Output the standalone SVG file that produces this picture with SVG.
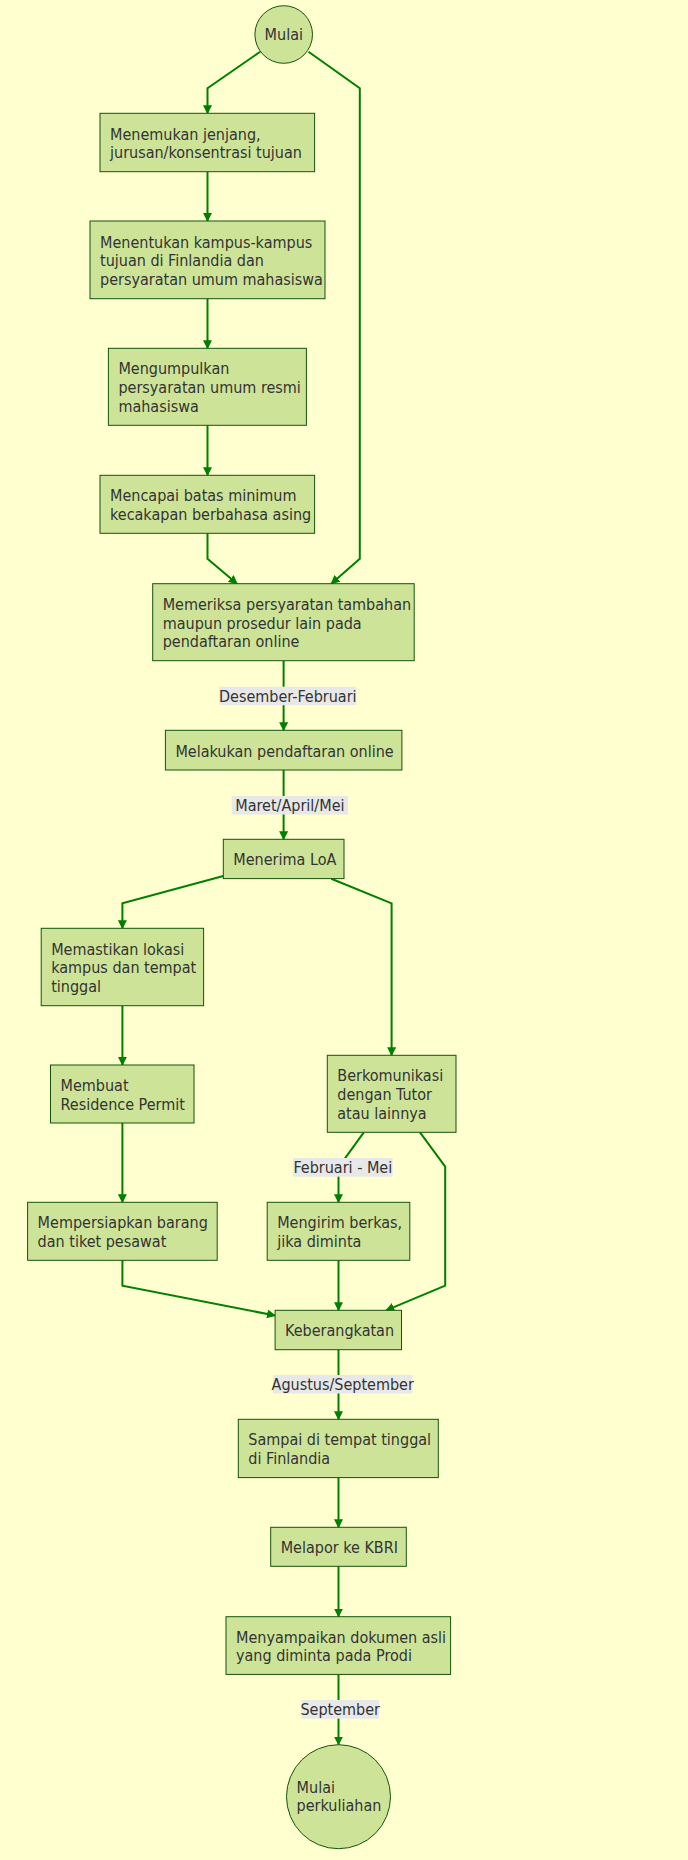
<svg xmlns="http://www.w3.org/2000/svg" width="688" height="1860" viewBox="0 0 688 1860">
  <style>
    .bg { fill: #ffffd0; }
    .node rect, .node circle { fill: #cde498; stroke: #13540c; stroke-width: 1; }
    .node text, .elabel text { font-family: "DejaVu Sans Condensed", "DejaVu Sans", sans-serif; font-stretch: condensed; font-size: 16px; fill: #333333; }
    .edge { fill: none; stroke: #008000; stroke-width: 2; }
    .elabel rect { fill: #e8e8e8; }
  </style>
  <defs>
    <marker id="arrow" viewBox="0 0 10 10" refX="9" refY="5" markerWidth="9" markerHeight="9" markerUnits="userSpaceOnUse" orient="auto">
      <path d="M0,0 L10,5 L0,10 z" fill="#008000"/>
    </marker>
  </defs>
  <rect class="bg" x="0" y="0" width="688" height="1860"/>

  <!-- connectors -->
  <g id="edges">
    <path class="edge" marker-end="url(#arrow)" d="M260.2,51.7 L207.5,88.3 L207.5,113.3"/>
    <path class="edge" marker-end="url(#arrow)" d="M308.5,51.7 L359.8,88.3 L359.8,558.7 L331.3,583.7"/>
    <path class="edge" marker-end="url(#arrow)" d="M207.5,171.7 L207.5,221"/>
    <path class="edge" marker-end="url(#arrow)" d="M207.5,298.7 L207.5,348.3"/>
    <path class="edge" marker-end="url(#arrow)" d="M207.5,425.3 L207.5,475.3"/>
    <path class="edge" marker-end="url(#arrow)" d="M207.5,533.3 L207.5,558.7 L237,583.7"/>
    <path class="edge" marker-end="url(#arrow)" d="M283.6,660.7 L283.6,730.3"/>
    <path class="edge" marker-end="url(#arrow)" d="M283.6,770 L283.6,839.3"/>
    <path class="edge" marker-end="url(#arrow)" d="M223.3,876 L122.4,903.3 L122.4,928.3"/>
    <path class="edge" marker-end="url(#arrow)" d="M331.3,878.7 L391.6,903.3 L391.6,1055.3"/>
    <path class="edge" marker-end="url(#arrow)" d="M122.4,1005.7 L122.4,1065"/>
    <path class="edge" marker-end="url(#arrow)" d="M122.4,1123 L122.4,1202.3"/>
    <path class="edge" marker-end="url(#arrow)" d="M363.8,1132.3 L338.5,1167.3 L338.5,1202.3"/>
    <path class="edge" marker-end="url(#arrow)" d="M420,1132.3 L445.2,1166.7 L445.2,1285.7 L386.1,1310.3"/>
    <path class="edge" marker-end="url(#arrow)" d="M122.4,1260.3 L122.4,1285.7 L275.1,1315.5"/>
    <path class="edge" marker-end="url(#arrow)" d="M338.5,1260.3 L338.5,1310.3"/>
    <path class="edge" marker-end="url(#arrow)" d="M338.5,1349.7 L338.5,1419.3"/>
    <path class="edge" marker-end="url(#arrow)" d="M338.5,1477.7 L338.5,1527.3"/>
    <path class="edge" marker-end="url(#arrow)" d="M338.5,1566.3 L338.5,1616.7"/>
    <path class="edge" marker-end="url(#arrow)" d="M338.5,1674.3 L338.5,1744.7"/>

    <g class="elabel">
      <rect x="219.4" y="686.7" width="136.9" height="18.5"/>
      <text x="287.8" y="701.5" text-anchor="middle">Desember-Februari</text>
    </g>
    <g class="elabel">
      <rect x="231.7" y="796" width="116.3" height="18.5"/>
      <text x="289.9" y="810.8" text-anchor="middle">Maret/April/Mei</text>
    </g>
    <g class="elabel">
      <rect x="293" y="1158" width="99.7" height="18.7"/>
      <text x="342.8" y="1172.8" text-anchor="middle">Februari - Mei</text>
    </g>
    <g class="elabel">
      <rect x="273" y="1375" width="139.4" height="18.5"/>
      <text x="342.7" y="1389.8" text-anchor="middle">Agustus/September</text>
    </g>
    <g class="elabel">
      <rect x="301.4" y="1700" width="77.7" height="18.7"/>
      <text x="340.2" y="1714.8" text-anchor="middle">September</text>
    </g>
  </g>

  <!-- nodes -->
  <g id="start" class="node">
    <circle cx="283.7" cy="34.5" r="28.8"/>
    <text x="264.6" y="39.8">Mulai</text>
  </g>
  <g id="menemukan" class="node">
    <rect x="100" y="113.3" width="214.6" height="58.4"/>
    <text x="110" y="139.5">Menemukan jenjang,</text>
    <text x="110" y="158.2">jurusan/konsentrasi tujuan</text>
  </g>
  <g id="menentukan" class="node">
    <rect x="90" y="221" width="235" height="77.7"/>
    <text x="100" y="247.5">Menentukan kampus-kampus</text>
    <text x="100" y="266.2">tujuan di Finlandia dan</text>
    <text x="100" y="284.9">persyaratan umum mahasiswa</text>
  </g>
  <g id="mengumpulkan" class="node">
    <rect x="108.4" y="348.3" width="198" height="77"/>
    <text x="118.4" y="374.4">Mengumpulkan</text>
    <text x="118.4" y="393.1">persyaratan umum resmi</text>
    <text x="118.4" y="411.8">mahasiswa</text>
  </g>
  <g id="mencapai" class="node">
    <rect x="100" y="475.3" width="214.6" height="58"/>
    <text x="110" y="501.3">Mencapai batas minimum</text>
    <text x="110" y="520">kecakapan berbahasa asing</text>
  </g>
  <g id="memeriksa" class="node">
    <rect x="152.7" y="583.7" width="261.5" height="77"/>
    <text x="162.7" y="609.8">Memeriksa persyaratan tambahan</text>
    <text x="162.7" y="628.5">maupun prosedur lain pada</text>
    <text x="162.7" y="647.2">pendaftaran online</text>
  </g>
  <g id="melakukan" class="node">
    <rect x="165.4" y="730.3" width="236.5" height="39.7"/>
    <text x="175.4" y="756.5">Melakukan pendaftaran online</text>
  </g>
  <g id="loa" class="node">
    <rect x="223.3" y="839.3" width="120.7" height="39.3"/>
    <text x="233.3" y="865.3">Menerima LoA</text>
  </g>
  <g id="memastikan" class="node">
    <rect x="41.2" y="928.3" width="162.4" height="77.4"/>
    <text x="51.2" y="954.6">Memastikan lokasi</text>
    <text x="51.2" y="973.3">kampus dan tempat</text>
    <text x="51.2" y="992">tinggal</text>
  </g>
  <g id="membuat" class="node">
    <rect x="50.5" y="1065" width="143.5" height="58"/>
    <text x="60.5" y="1091">Membuat</text>
    <text x="60.5" y="1109.7">Residence Permit</text>
  </g>
  <g id="berkomunikasi" class="node">
    <rect x="327.3" y="1055.3" width="128.7" height="77"/>
    <text x="337.3" y="1081.4">Berkomunikasi</text>
    <text x="337.3" y="1100.1">dengan Tutor</text>
    <text x="337.3" y="1118.8">atau lainnya</text>
  </g>
  <g id="mempersiapkan" class="node">
    <rect x="27.6" y="1202.3" width="189.6" height="58"/>
    <text x="37.6" y="1228.3">Mempersiapkan barang</text>
    <text x="37.6" y="1247">dan tiket pesawat</text>
  </g>
  <g id="mengirim" class="node">
    <rect x="267.2" y="1202.3" width="142.6" height="58"/>
    <text x="277.2" y="1228.3">Mengirim berkas,</text>
    <text x="277.2" y="1247">jika diminta</text>
  </g>
  <g id="keberangkatan" class="node">
    <rect x="275.1" y="1310.3" width="126.4" height="39.4"/>
    <text x="285.1" y="1336.3">Keberangkatan</text>
  </g>
  <g id="sampai" class="node">
    <rect x="238.3" y="1419.3" width="200" height="58.3"/>
    <text x="248.3" y="1445.4">Sampai di tempat tinggal</text>
    <text x="248.3" y="1464.1">di Finlandia</text>
  </g>
  <g id="melapor" class="node">
    <rect x="270.7" y="1527.3" width="135.6" height="39"/>
    <text x="280.7" y="1553.1">Melapor ke KBRI</text>
  </g>
  <g id="menyampaikan" class="node">
    <rect x="226" y="1616.7" width="224.6" height="57.7"/>
    <text x="236" y="1642.5">Menyampaikan dokumen asli</text>
    <text x="236" y="1661.2">yang diminta pada Prodi</text>
  </g>
  <g id="end" class="node">
    <circle cx="338.5" cy="1796.7" r="52"/>
    <text x="296.6" y="1792.6">Mulai</text>
    <text x="296.6" y="1811.3">perkuliahan</text>
  </g>
</svg>
